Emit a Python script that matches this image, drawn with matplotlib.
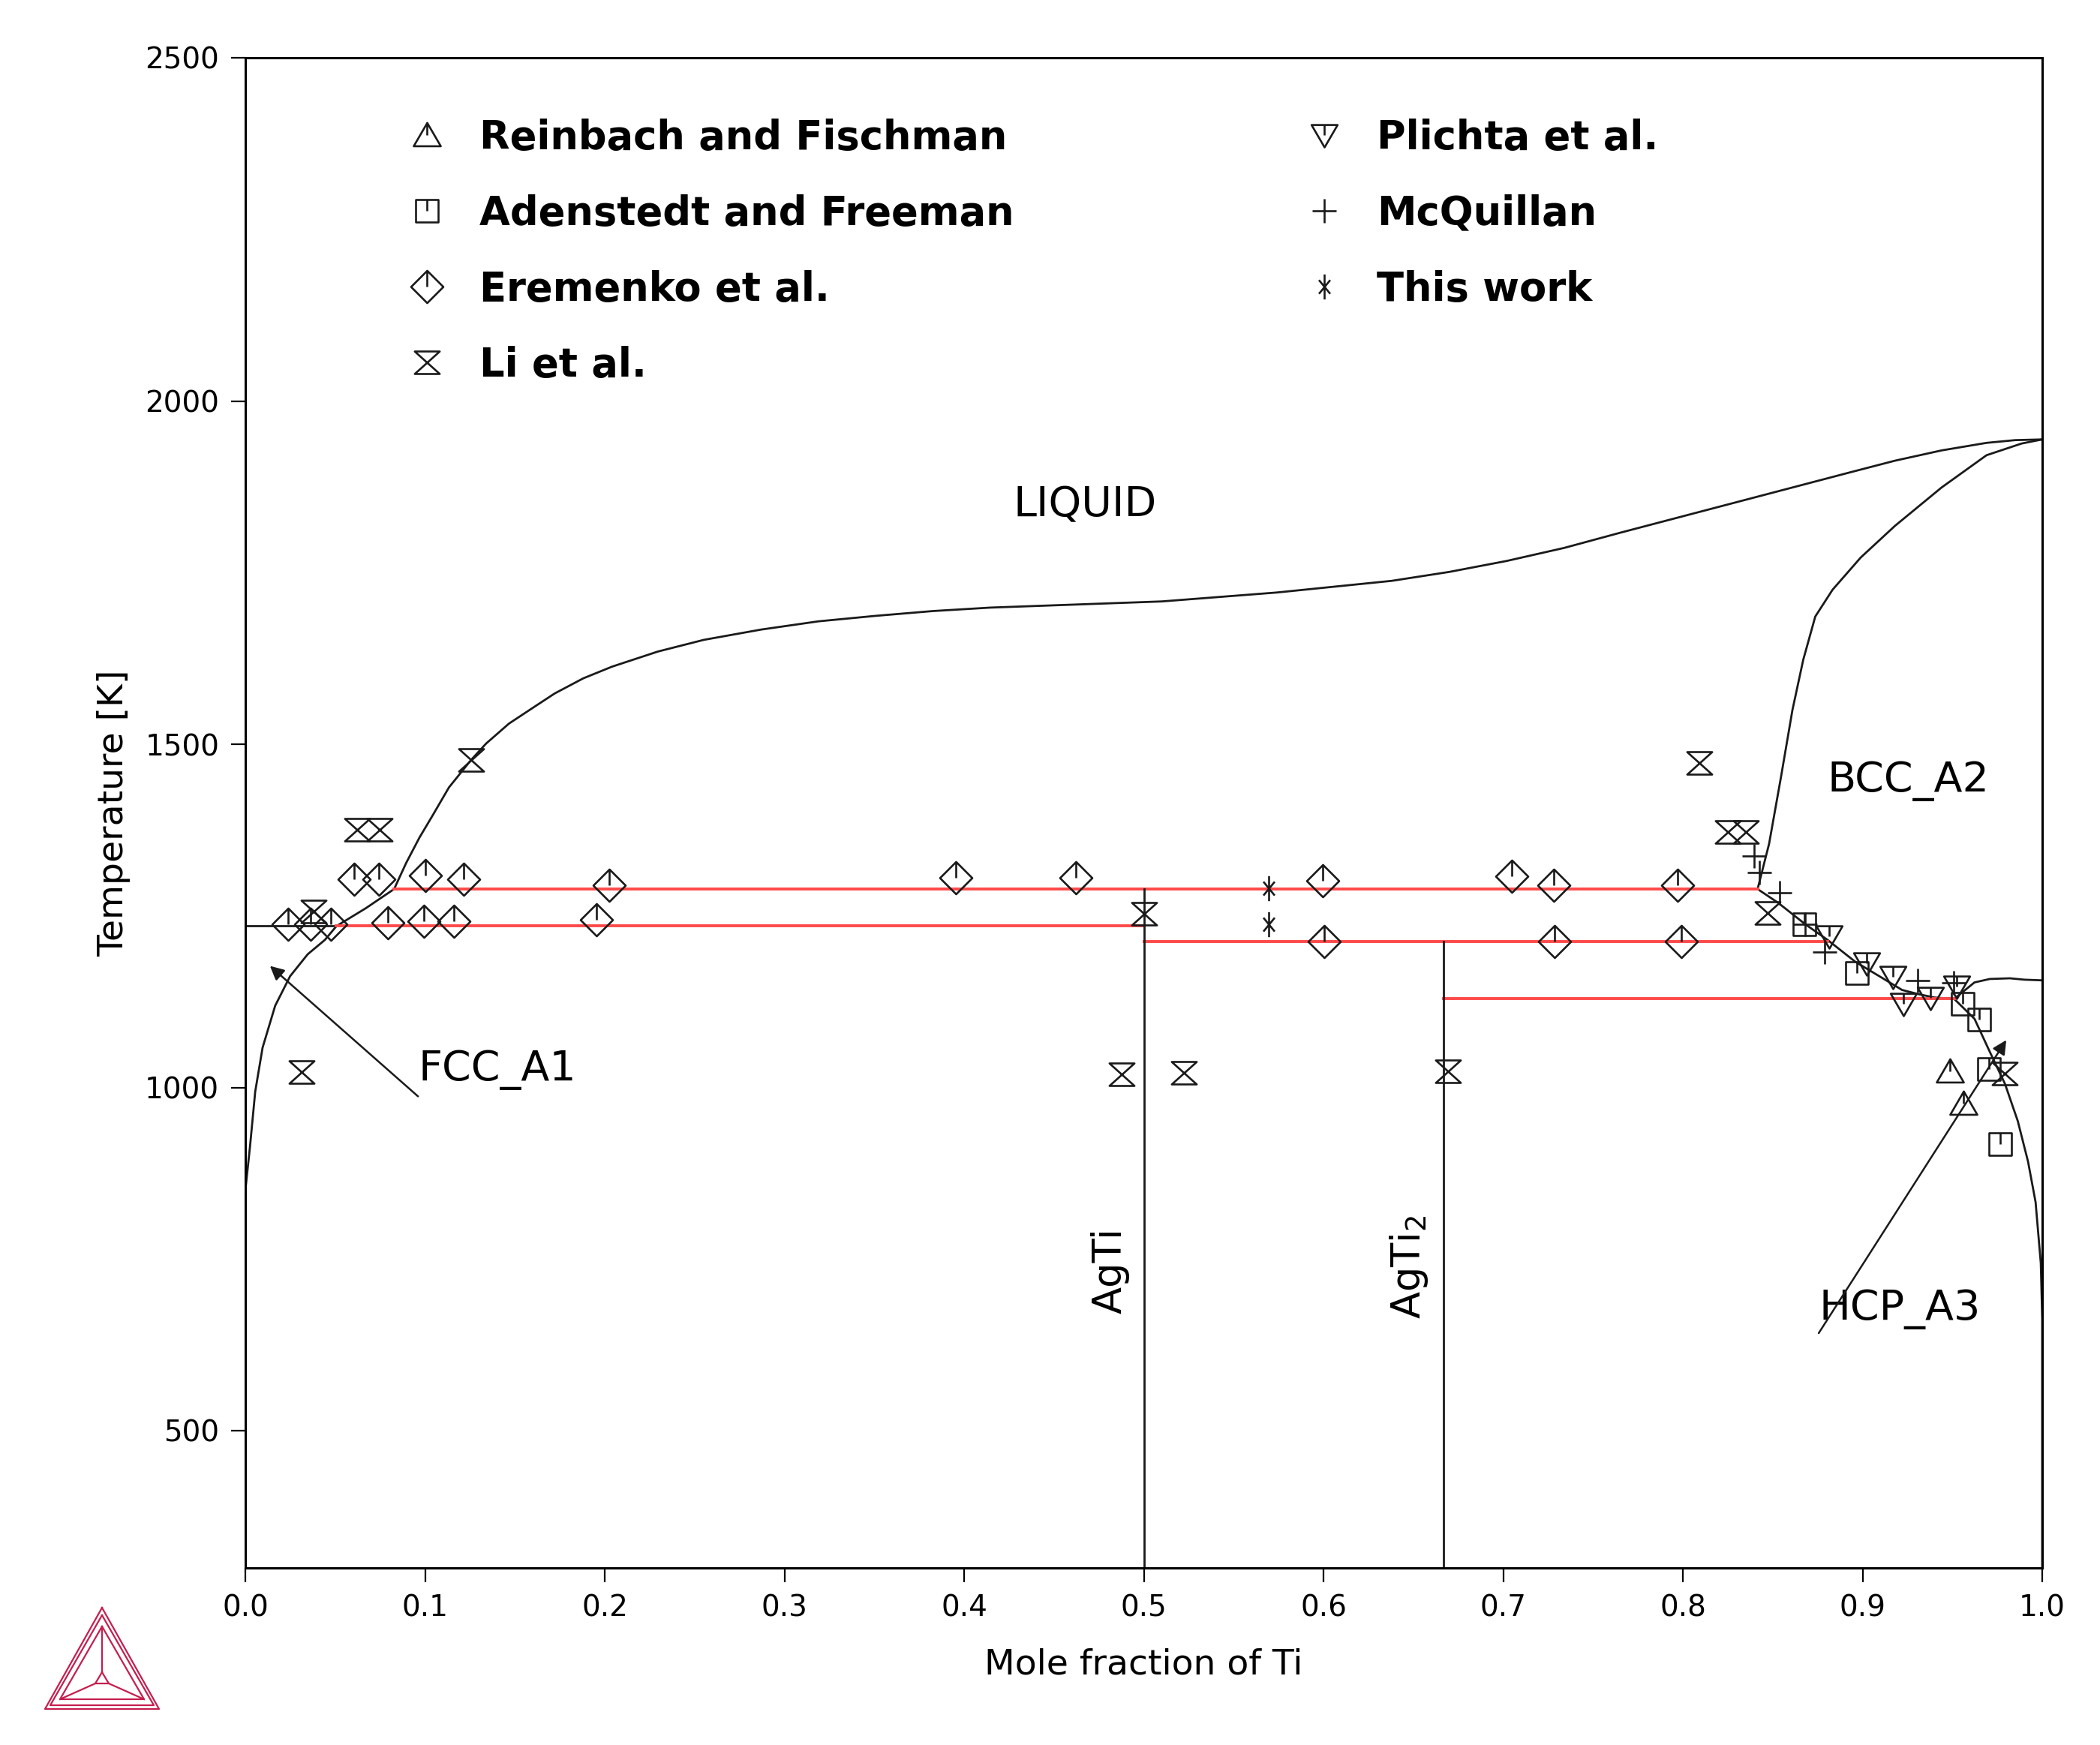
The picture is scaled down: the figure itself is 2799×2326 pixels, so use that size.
import matplotlib
matplotlib.use("Agg")
import matplotlib.pyplot as plt
from matplotlib.path import Path

# ---- phase boundaries (mole fraction Ti, temperature in K)
liq_x = [0.0507, 0.067, 0.0828, 0.0895, 0.0969, 0.1044, 0.1133, 0.1256, 0.134, 0.1467,
         0.1594, 0.1722, 0.1881, 0.2041, 0.2296, 0.2551, 0.287, 0.3189, 0.3508, 0.3827,
         0.4145, 0.4464, 0.510, 0.574, 0.638, 0.670, 0.702, 0.734, 0.765, 0.797, 0.829,
         0.861, 0.893, 0.918, 0.944, 0.969, 0.985, 1.0]
liq_T = [1235, 1261, 1289, 1327, 1364, 1397, 1437, 1477, 1501, 1530,
         1552, 1574, 1596, 1613, 1635, 1652, 1667, 1679, 1687, 1694,
         1699, 1702, 1708, 1721, 1738, 1751, 1767, 1786, 1808, 1830, 1852,
         1874, 1896, 1913, 1928, 1939, 1943, 1944]

bcc_x = [0.8416, 0.848, 0.8546, 0.861, 0.867, 0.8737, 0.8833, 0.899, 0.918, 0.944,
         0.969, 0.9885, 1.0]
bcc_T = [1289, 1355, 1452, 1550, 1623, 1686, 1725, 1772, 1818, 1874, 1921, 1938, 1944]

fcc_x = [0.0, 0.0, 0.0026, 0.0055, 0.0096, 0.0166, 0.0249, 0.0347, 0.0443, 0.0507]
fcc_T = [300, 850, 914, 994, 1058, 1119, 1162, 1194, 1215, 1235]

ag_melt_x = [0.0, 0.0507]
ag_melt_T = [1235, 1235]

bcc_lo_x = [0.8416, 0.853, 0.868, 0.8805, 0.896, 0.910, 0.922, 0.931, 0.940, 0.951]
bcc_lo_T = [1289, 1269, 1238, 1215, 1183, 1161, 1142, 1136, 1131, 1129]

bcc_hcp_x = [0.951, 0.9623, 0.9708, 0.982, 0.990, 1.0]
bcc_hcp_T = [1129, 1153, 1158, 1159, 1157, 1156]

hcp_x = [0.951, 0.9623, 0.9708, 0.9793, 0.9864, 0.9921, 0.9963, 0.9992, 1.0, 1.0]
hcp_T = [1129, 1100, 1052, 1005, 951, 892, 833, 744, 663, 300]

# invariant reactions (red) and the two line compounds
inv_T = [1289, 1235, 1213, 1129]
inv_x0 = [0.0828, 0.0507, 0.5, 2 / 3]
inv_x1 = [0.8416, 0.5, 0.8805, 0.951]

comp_x = [0.5, 2 / 3]
comp_T = [1289, 1213]

# ---- experimental points
reinbach_x = [0.9485, 0.9562]
reinbach_T = [1024, 976]

adenstedt_x = [0.8675, 0.897, 0.9558, 0.965, 0.9705, 0.9767]
adenstedt_T = [1238, 1167, 1122, 1099, 1027, 918]

eremenko_x = [0.0238, 0.0365, 0.0477, 0.0604, 0.0743, 0.0794, 0.1004, 0.0992, 0.1215,
              0.116, 0.1954, 0.2023, 0.3955, 0.4623, 0.5996, 0.6006, 0.7048, 0.7283,
              0.7288, 0.797, 0.799]
eremenko_T = [1238, 1238, 1238, 1303, 1303, 1240, 1309, 1242, 1303,
              1242, 1244, 1294, 1306, 1306, 1301, 1213, 1308, 1294,
              1213, 1295, 1213]

li_x = [0.0312, 0.038, 0.0623, 0.0746, 0.1256, 0.4875, 0.5003, 0.5224, 0.6693,
        0.809, 0.825, 0.835, 0.847, 0.979]
li_T = [1022, 1256, 1375, 1375, 1477, 1019, 1253, 1021, 1023,
        1473, 1372, 1372, 1254, 1020]

plichta_x = [0.8814, 0.9021, 0.9168, 0.9229, 0.9376, 0.9523]
plichta_T = [1220, 1181, 1161, 1122, 1131, 1147]

mcquillan_x = [0.8398, 0.8424, 0.8537, 0.868, 0.8788, 0.9307, 0.9506]
mcquillan_T = [1337, 1313, 1284, 1238, 1197, 1156, 1152]

thiswork_x = [0.5695, 0.5695]
thiswork_T = [1290, 1238]

# ---- marker shapes (outline with a short tick from the centre to the top)
M, L, CL = Path.MOVETO, Path.LINETO, Path.CLOSEPOLY
tri_up = Path([(-1, -0.8), (1, -0.8), (0, 0.92), (0, 0), (0, 0.92), (0, 0)], [M, L, L, CL, M, L])
tri_dn = Path([(-1, 0.8), (1, 0.8), (0, -0.92), (0, 0), (0, 0.8), (0, 0)], [M, L, L, CL, M, L])
square = Path([(-1, -1), (1, -1), (1, 1), (-1, 1), (0, 0), (0, 1), (0, 0)], [M, L, L, L, CL, M, L])
diamond = Path([(0, 1), (1, 0), (0, -1), (-1, 0), (0, 0), (0, 1), (0, 0)], [M, L, L, L, CL, M, L])
hourglass = Path([(-1, 0.9), (1, 0.9), (-1, -0.9), (1, -0.9), (0, 0)], [M, L, L, L, CL])
asterisk = Path([(0, -1), (0, 1), (-0.45, -0.55), (0.45, 0.55), (-0.45, 0.55), (0.45, -0.55)],
                [M, L, M, L, M, L])

fig = plt.figure(figsize=(27.99, 23.26), dpi=100)
ax = fig.add_axes([327 / 2799, 1 - 2090 / 2326, 2395 / 2799, 2013 / 2326])

lw = 2.0
for xs, ts in [(liq_x, liq_T), (bcc_x, bcc_T), (fcc_x, fcc_T), (ag_melt_x, ag_melt_T),
               (bcc_lo_x, bcc_lo_T), (bcc_hcp_x, bcc_hcp_T), (hcp_x, hcp_T)]:
    ax.plot(xs, ts, color="#1a1a1a", lw=lw, zorder=2, solid_joinstyle="round")

for t, x0, x1 in zip(inv_T, inv_x0, inv_x1):
    ax.plot([x0, x1], [t, t], color="#ff4a4a", lw=2.8, zorder=2)
for x, t in zip(comp_x, comp_T):
    ax.plot([x, x], [300, t], color="#1a1a1a", lw=lw, zorder=2)

mk = dict(ls="none", mfc="none", mec="#1a1a1a", mew=1.9, zorder=3)
h1 = ax.plot(reinbach_x, reinbach_T, marker=tri_up, ms=26, label="Reinbach and Fischman", **mk)[0]
h2 = ax.plot(adenstedt_x, adenstedt_T, marker=square, ms=22, label="Adenstedt and Freeman", **mk)[0]
h3 = ax.plot(eremenko_x, eremenko_T, marker=diamond, ms=31, label="Eremenko et al.", **mk)[0]
h4 = ax.plot(li_x, li_T, marker=hourglass, ms=24, label="Li et al.", **mk)[0]
h5 = ax.plot(plichta_x, plichta_T, marker=tri_dn, ms=25, label="Plichta et al.", **mk)[0]
h6 = ax.plot(mcquillan_x, mcquillan_T, marker="+", ms=23, label="McQuillan", **mk)[0]
h7 = ax.plot(thiswork_x, thiswork_T, marker=asterisk, ms=24, label="This work", **mk)[0]

leg_kw = dict(loc="upper left", frameon=False, borderpad=0, borderaxespad=0, numpoints=1,
              handlelength=1.0, handletextpad=0.82, labelspacing=0.93,
              prop=dict(size=38, weight="bold"))
leg1 = ax.legend(handles=[h1, h2, h3, h4], bbox_to_anchor=(0.0902, 0.960), **leg_kw)
ax.add_artist(leg1)
ax.legend(handles=[h5, h6, h7], bbox_to_anchor=(0.5894, 0.960), **leg_kw)

# phase labels
ax.text(0.4672, 1848, "LIQUID", fontsize=40, ha="center", va="center")
ax.text(0.9255, 1446, "BCC_A2", fontsize=40, ha="center", va="center")
ax.text(0.0961, 1026, "FCC_A1", fontsize=40, ha="left", va="center")
ax.text(0.8756, 677, "HCP_A3", fontsize=40, ha="left", va="center")
ax.text(0.4814, 733, "AgTi", fontsize=38, rotation=90, ha="center", va="center")
ax.text(0.6475, 739, "AgTi$_2$", fontsize=38, rotation=90, ha="center", va="center")

arrow = dict(arrowstyle="-|>", color="#1a1a1a", lw=1.8, mutation_scale=28, shrinkA=0, shrinkB=0)
ax.annotate("", xy=(0.0137, 1177), xytext=(0.0961, 987), arrowprops=arrow)
ax.annotate("", xy=(0.980, 1069), xytext=(0.8756, 642), arrowprops=arrow)

ax.set_xlim(0, 1)
ax.set_ylim(300, 2500)
ax.set_xticks([i / 10 for i in range(11)])
ax.set_xticklabels([f"{i / 10:.1f}" for i in range(11)])
ax.set_yticks([500, 1000, 1500, 2000, 2500])
ax.tick_params(direction="out", length=14, width=1.6, labelsize=28, pad=11,
               top=False, right=False)
for s in ax.spines.values():
    s.set_linewidth(2.2)

ax.set_xlabel("Mole fraction of Ti", fontsize=34)
ax.set_ylabel("Temperature [K]", fontsize=34)
ax.xaxis.set_label_coords(0.5, -0.053)
ax.yaxis.set_label_coords(-0.064, 0.5)

# Thermo-Calc logo, drawn in figure pixels
lg = fig.add_axes([50 / 2799, 1 - 2290 / 2326, 175 / 2799, 160 / 2326])
lg.set_xlim(50, 225)
lg.set_ylim(2290, 2130)
lg.axis("off")
logo_col = "#c41e4f"
for xs, ys in [([136, 60, 212, 136], [2143, 2278, 2278, 2143]),
               ([136, 67, 205, 136], [2153, 2273, 2273, 2153]),
               ([136, 80, 192, 136], [2168, 2265, 2265, 2168]),
               ([136, 127, 145, 136], [2229, 2244, 2244, 2229]),
               ([136, 136], [2229, 2168]), ([127, 80], [2244, 2265]), ([145, 192], [2244, 2265])]:
    lg.plot(xs, ys, color=logo_col, lw=1.6)

fig.savefig("out.png", dpi=100, facecolor="white")
